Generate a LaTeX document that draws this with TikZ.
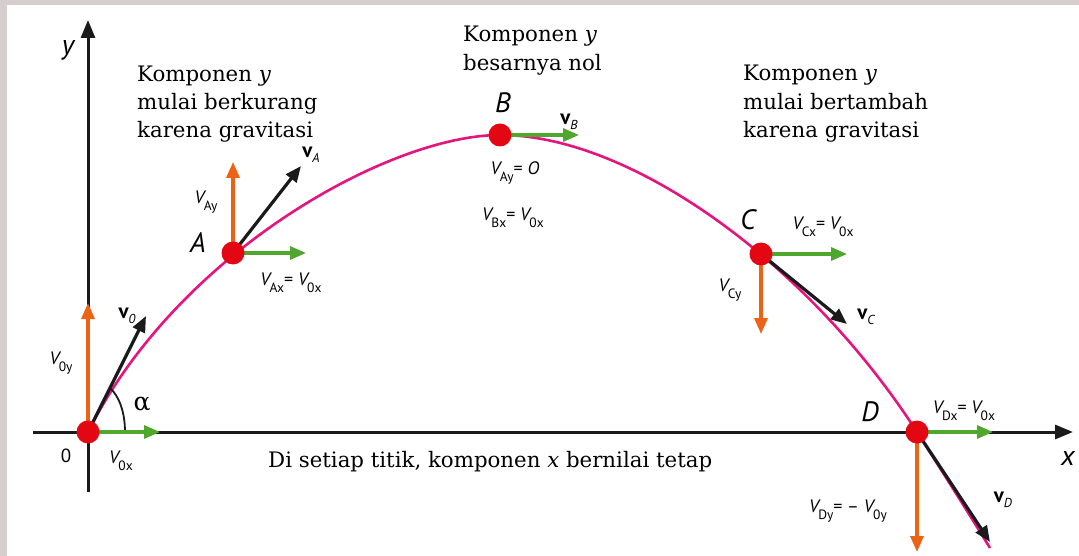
\documentclass[tikz,border=0pt]{standalone}
\usepackage{fontspec}
\setmainfont{DejaVu Serif}
\setsansfont{PT Sans}
\usetikzlibrary{arrows.meta}
\definecolor{bggrey}{HTML}{D6CECC}
\definecolor{vorange}{HTML}{EC6316}
\definecolor{vgreen}{HTML}{4FA72E}
\definecolor{vpink}{HTML}{E5157F}
\definecolor{vred}{HTML}{E30613}
\definecolor{vblack}{HTML}{1A1A1A}
\newcommand{\Vc}[1]{{\sffamily\itshape V}\kern-0.5pt\raisebox{-0.75ex}{\fontsize{13.5}{13.5}\selectfont\sffamily #1}}
\newcommand{\bvec}[1]{{\fontsize{21}{21}\selectfont\sffamily\bfseries v}\raisebox{-0.6ex}{\fontsize{13}{13}\selectfont\sffamily\itshape #1}}
\tikzset{
  tip/.style={-{Triangle[length=16pt,width=13pt]}},
  axisline/.style={vblack,line width=3pt,-{Triangle[length=18pt,width=14pt]}},
  vcomp/.style={line width=3.2pt,tip},
  vx/.style={vcomp,vgreen},
  vy/.style={vcomp,vorange},
  vtot/.style={vcomp,vblack},
  dot/.style={circle,fill=vred,inner sep=0pt,minimum size=23pt},
  serif/.style={font=\fontsize{21.3}{28}\selectfont,anchor=base west,inner sep=0pt},
  lab/.style={font=\fontsize{18}{18}\selectfont\sffamily,inner sep=0pt},
  pname/.style={font=\fontsize{28}{28}\selectfont\sffamily\itshape,inner sep=0pt},
}
\begin{document}
\begin{tikzpicture}[x=1pt,y=-1pt]
\useasboundingbox (0,0) rectangle (1079,556);
\fill[bggrey] (0,0) rectangle (1079,556);
\fill[white] (7,5) rectangle (1079,556);
% axes
\coordinate (xs) at (33,432);
\coordinate (xe) at (1073,432);
\coordinate (ys) at (88,492);
\coordinate (ye) at (88,20);
\draw[axisline] (xs) -- (xe);
\draw[axisline] (ys) -- (ye);
\node[pname] (xlab) at (1068,458) {x};
\node[pname] (ylab) at (68,50) {y};
% points
\coordinate (O) at (88,432);
\coordinate (A) at (233,253);
\coordinate (B) at (500,135);
\coordinate (C) at (761,254);
\coordinate (D) at (917,432);
\coordinate (E) at (990,548);
% trajectory
\draw[vpink,line width=2.6pt] (O) .. controls (178,252) and (390,135) .. (B)
  .. controls (630,135) and (807,261.5) .. (D)
  .. controls (942,471) and (966,509) .. (E);
% vector ends
\coordinate (Ox) at (160,432);
\coordinate (Oy) at (88,303);
\coordinate (Ov) at (146,316);
\coordinate (Ax) at (306,253);
\coordinate (Ay) at (233,162);
\coordinate (Av) at (301,166);
\coordinate (Bx) at (579,135);
\coordinate (Cx) at (847,254);
\coordinate (Cy) at (761,334);
\coordinate (Cv) at (847,324);
\coordinate (Dx) at (993,432);
\coordinate (Dy) at (917,552);
\coordinate (Dv) at (990,542);
% angle arc
\coordinate (a1) at (125,432);
\coordinate (a2) at (110,388);
\draw[vblack,line width=1.8pt] (a1) .. controls (125,412) and (119,396) .. (a2);
% vectors
\draw[vy] (O) -- (Oy);
\draw[vx] (O) -- (Ox);
\draw[vtot] (O) -- (Ov);
\draw[vy] (A) -- (Ay);
\draw[vx] (A) -- (Ax);
\draw[vtot] (A) -- (Av);
\draw[vx] (B) -- (Bx);
\draw[vx] (C) -- (Cx);
\draw[vy] (C) -- (Cy);
\draw[vtot] (C) -- (Cv);
\draw[vx] (D) -- (Dx);
\draw[vy] (D) -- (Dy);
\draw[vtot] (D) -- (Dv);
% dots
\node[dot] (dO) at (O) {};
\node[dot] (dA) at (A) {};
\node[dot] (dB) at (B) {};
\node[dot] (dC) at (C) {};
\node[dot] (dD) at (D) {};
% point names
\node[pname] (nA) at (198,243) {A};
\node[pname] (nB) at (503,103) {B};
\node[pname] (nC) at (748,220) {C};
\node[pname] (nD) at (870,412) {D};
\node[lab,font=\fontsize{19}{19}\selectfont\sffamily] (zero) at (66,456) {0};
\node[lab,font=\fontsize{25}{25}\selectfont\rmfamily] (alpha) at (142,404) {α};
% labels
\node[lab] (l0x) at (121,461) {\Vc{0x}};
\node[lab] (l0y) at (61,363) {\Vc{0y}};
\node[lab] (l0v) at (127,316) {\bvec{0}};
\node[lab] (lAy) at (206,202) {\Vc{Ay}};
\node[lab] (lAv) at (311,155) {\bvec{A}};
\node[lab] (lAx) at (291,283) {\Vc{Ax}= \Vc{0x}};
\node[lab] (lBv) at (569,122) {\bvec{B}};
\node[lab] (lBy) at (515,173) {\Vc{Ay}= {\itshape O}};
\node[lab] (lBx) at (513,218) {\Vc{Bx}= \Vc{0x}};
\node[lab] (lCx) at (823,227) {\Vc{Cx}= \Vc{0x}};
\node[lab] (lCy) at (730,290) {\Vc{Cy}};
\node[lab] (lCv) at (866,317) {\bvec{C}};
\node[lab] (lDx) at (964,411) {\Vc{Dx}= \Vc{0x}};
\node[lab] (lDy) at (848,511) {\Vc{Dy}= -- \Vc{0y}};
\node[lab] (lDv) at (1003,500) {\bvec{D}};
% texts
\node[serif] (t1a) at (137,82) {Komponen \textit{y}};
\node[serif] (t1b) at (137,110) {mulai berkurang};
\node[serif] (t1c) at (137,138) {karena gravitasi};
\node[serif] (t2a) at (463,42) {Komponen \textit{y}};
\node[serif] (t2b) at (463,71) {besarnya nol};
\node[serif] (t3a) at (743,81) {Komponen \textit{y}};
\node[serif] (t3b) at (743,110) {mulai bertambah};
\node[serif] (t3c) at (743,138) {karena gravitasi};
\node[serif] (t4) at (268,467) {Di setiap titik, komponen \textit{x} bernilai tetap};
\end{tikzpicture}
\end{document}
